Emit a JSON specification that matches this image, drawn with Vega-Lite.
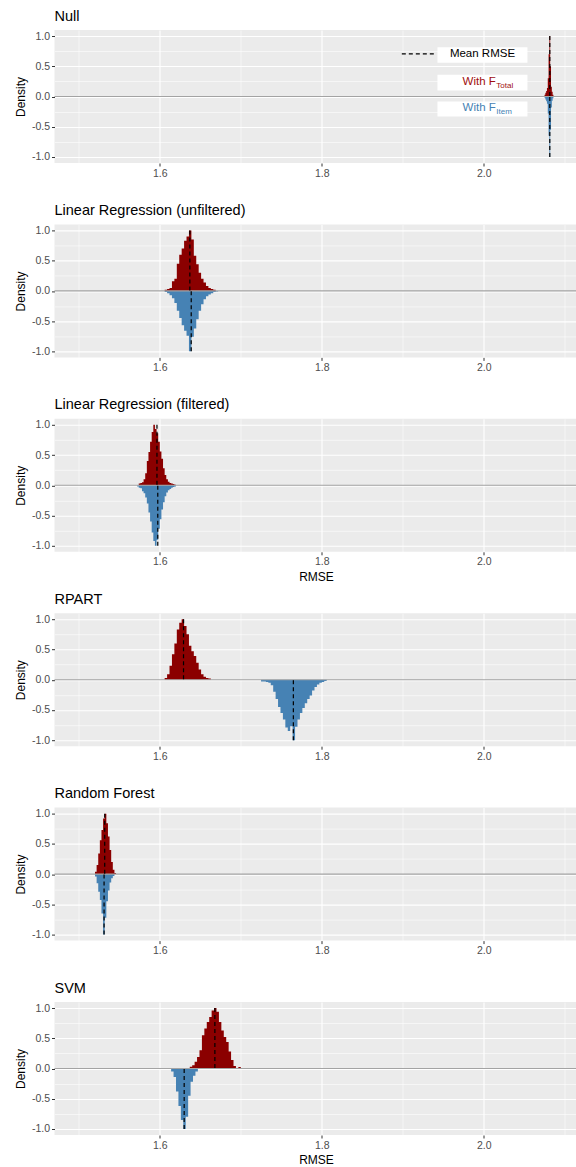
{
  "$schema": "https://vega.github.io/schema/vega-lite/v6.json",
  "padding": {"left": 13.5, "top": 8, "right": 0, "bottom": 0},
  "spacing": 61.4,
  "bounds": "flush",
  "datasets": {
    "hist": [
      {"p":"Null","g":"Total","x":2.075,"d":0.03},{"p":"Null","g":"Total","x":2.076,"d":0.06},{"p":"Null","g":"Total","x":2.077,"d":0.09},{"p":"Null","g":"Total","x":2.078,"d":0.14},{"p":"Null","g":"Total","x":2.079,"d":0.3},{"p":"Null","g":"Total","x":2.08,"d":0.7},{"p":"Null","g":"Total","x":2.081,"d":1},{"p":"Null","g":"Total","x":2.082,"d":0.5},{"p":"Null","g":"Total","x":2.083,"d":0.16},{"p":"Null","g":"Total","x":2.084,"d":0.08},{"p":"Null","g":"Total","x":2.085,"d":0.03},{"p":"Null","g":"Total","x":2.086,"d":0},
      {"p":"Null","g":"Item","x":2.075,"d":-0.02},{"p":"Null","g":"Item","x":2.076,"d":-0.05},{"p":"Null","g":"Item","x":2.077,"d":-0.08},{"p":"Null","g":"Item","x":2.078,"d":-0.12},{"p":"Null","g":"Item","x":2.079,"d":-0.28},{"p":"Null","g":"Item","x":2.08,"d":-0.65},{"p":"Null","g":"Item","x":2.081,"d":-1},{"p":"Null","g":"Item","x":2.082,"d":-0.55},{"p":"Null","g":"Item","x":2.083,"d":-0.18},{"p":"Null","g":"Item","x":2.084,"d":-0.07},{"p":"Null","g":"Item","x":2.085,"d":-0.03},{"p":"Null","g":"Item","x":2.086,"d":0},

      {"p":"LRU","g":"Total","x":1.606,"d":0.02},{"p":"LRU","g":"Total","x":1.609,"d":0.03},{"p":"LRU","g":"Total","x":1.612,"d":0.05},{"p":"LRU","g":"Total","x":1.615,"d":0.16},{"p":"LRU","g":"Total","x":1.618,"d":0.2},{"p":"LRU","g":"Total","x":1.621,"d":0.45},{"p":"LRU","g":"Total","x":1.624,"d":0.6},{"p":"LRU","g":"Total","x":1.627,"d":0.7},{"p":"LRU","g":"Total","x":1.63,"d":0.83},{"p":"LRU","g":"Total","x":1.633,"d":0.9},{"p":"LRU","g":"Total","x":1.636,"d":1},{"p":"LRU","g":"Total","x":1.639,"d":0.85},{"p":"LRU","g":"Total","x":1.642,"d":0.58},{"p":"LRU","g":"Total","x":1.645,"d":0.44},{"p":"LRU","g":"Total","x":1.648,"d":0.3},{"p":"LRU","g":"Total","x":1.651,"d":0.2},{"p":"LRU","g":"Total","x":1.654,"d":0.14},{"p":"LRU","g":"Total","x":1.657,"d":0.08},{"p":"LRU","g":"Total","x":1.66,"d":0.05},{"p":"LRU","g":"Total","x":1.663,"d":0.03},{"p":"LRU","g":"Total","x":1.666,"d":0.02},{"p":"LRU","g":"Total","x":1.669,"d":0},
      {"p":"LRU","g":"Item","x":1.606,"d":-0.02},{"p":"LRU","g":"Item","x":1.609,"d":-0.04},{"p":"LRU","g":"Item","x":1.612,"d":-0.07},{"p":"LRU","g":"Item","x":1.615,"d":-0.12},{"p":"LRU","g":"Item","x":1.618,"d":-0.2},{"p":"LRU","g":"Item","x":1.621,"d":-0.33},{"p":"LRU","g":"Item","x":1.624,"d":-0.45},{"p":"LRU","g":"Item","x":1.627,"d":-0.57},{"p":"LRU","g":"Item","x":1.63,"d":-0.66},{"p":"LRU","g":"Item","x":1.633,"d":-0.74},{"p":"LRU","g":"Item","x":1.636,"d":-1},{"p":"LRU","g":"Item","x":1.639,"d":-0.76},{"p":"LRU","g":"Item","x":1.642,"d":-0.62},{"p":"LRU","g":"Item","x":1.645,"d":-0.47},{"p":"LRU","g":"Item","x":1.648,"d":-0.33},{"p":"LRU","g":"Item","x":1.651,"d":-0.22},{"p":"LRU","g":"Item","x":1.654,"d":-0.14},{"p":"LRU","g":"Item","x":1.657,"d":-0.09},{"p":"LRU","g":"Item","x":1.66,"d":-0.06},{"p":"LRU","g":"Item","x":1.663,"d":-0.04},{"p":"LRU","g":"Item","x":1.666,"d":-0.02},{"p":"LRU","g":"Item","x":1.669,"d":-0.01},{"p":"LRU","g":"Item","x":1.672,"d":0},

      {"p":"LRF","g":"Total","x":1.574,"d":0.03},{"p":"LRF","g":"Total","x":1.576,"d":0.04},{"p":"LRF","g":"Total","x":1.578,"d":0.05},{"p":"LRF","g":"Total","x":1.58,"d":0.1},{"p":"LRF","g":"Total","x":1.582,"d":0.2},{"p":"LRF","g":"Total","x":1.584,"d":0.4},{"p":"LRF","g":"Total","x":1.586,"d":0.55},{"p":"LRF","g":"Total","x":1.588,"d":0.72},{"p":"LRF","g":"Total","x":1.59,"d":0.88},{"p":"LRF","g":"Total","x":1.592,"d":1},{"p":"LRF","g":"Total","x":1.594,"d":0.93},{"p":"LRF","g":"Total","x":1.596,"d":0.86},{"p":"LRF","g":"Total","x":1.598,"d":0.72},{"p":"LRF","g":"Total","x":1.6,"d":0.56},{"p":"LRF","g":"Total","x":1.602,"d":0.44},{"p":"LRF","g":"Total","x":1.604,"d":0.28},{"p":"LRF","g":"Total","x":1.606,"d":0.17},{"p":"LRF","g":"Total","x":1.608,"d":0.1},{"p":"LRF","g":"Total","x":1.61,"d":0.06},{"p":"LRF","g":"Total","x":1.612,"d":0.04},{"p":"LRF","g":"Total","x":1.614,"d":0.03},{"p":"LRF","g":"Total","x":1.616,"d":0.02},{"p":"LRF","g":"Total","x":1.618,"d":0.01},{"p":"LRF","g":"Total","x":1.62,"d":0},
      {"p":"LRF","g":"Item","x":1.572,"d":-0.02},{"p":"LRF","g":"Item","x":1.574,"d":-0.04},{"p":"LRF","g":"Item","x":1.576,"d":-0.05},{"p":"LRF","g":"Item","x":1.578,"d":-0.1},{"p":"LRF","g":"Item","x":1.58,"d":-0.13},{"p":"LRF","g":"Item","x":1.582,"d":-0.2},{"p":"LRF","g":"Item","x":1.584,"d":-0.3},{"p":"LRF","g":"Item","x":1.586,"d":-0.45},{"p":"LRF","g":"Item","x":1.588,"d":-0.6},{"p":"LRF","g":"Item","x":1.59,"d":-0.78},{"p":"LRF","g":"Item","x":1.592,"d":-0.92},{"p":"LRF","g":"Item","x":1.594,"d":-1},{"p":"LRF","g":"Item","x":1.596,"d":-0.9},{"p":"LRF","g":"Item","x":1.598,"d":-0.72},{"p":"LRF","g":"Item","x":1.6,"d":-0.56},{"p":"LRF","g":"Item","x":1.602,"d":-0.4},{"p":"LRF","g":"Item","x":1.604,"d":-0.28},{"p":"LRF","g":"Item","x":1.606,"d":-0.18},{"p":"LRF","g":"Item","x":1.608,"d":-0.12},{"p":"LRF","g":"Item","x":1.61,"d":-0.08},{"p":"LRF","g":"Item","x":1.612,"d":-0.06},{"p":"LRF","g":"Item","x":1.614,"d":-0.04},{"p":"LRF","g":"Item","x":1.616,"d":-0.03},{"p":"LRF","g":"Item","x":1.618,"d":-0.02},{"p":"LRF","g":"Item","x":1.62,"d":0},

      {"p":"RPART","g":"Total","x":1.606,"d":0.03},{"p":"RPART","g":"Total","x":1.609,"d":0.09},{"p":"RPART","g":"Total","x":1.612,"d":0.23},{"p":"RPART","g":"Total","x":1.615,"d":0.42},{"p":"RPART","g":"Total","x":1.618,"d":0.6},{"p":"RPART","g":"Total","x":1.621,"d":0.83},{"p":"RPART","g":"Total","x":1.624,"d":0.94},{"p":"RPART","g":"Total","x":1.627,"d":1},{"p":"RPART","g":"Total","x":1.63,"d":0.89},{"p":"RPART","g":"Total","x":1.633,"d":0.75},{"p":"RPART","g":"Total","x":1.636,"d":0.56},{"p":"RPART","g":"Total","x":1.639,"d":0.47},{"p":"RPART","g":"Total","x":1.642,"d":0.39},{"p":"RPART","g":"Total","x":1.645,"d":0.28},{"p":"RPART","g":"Total","x":1.648,"d":0.17},{"p":"RPART","g":"Total","x":1.651,"d":0.09},{"p":"RPART","g":"Total","x":1.654,"d":0.05},{"p":"RPART","g":"Total","x":1.657,"d":0.03},{"p":"RPART","g":"Total","x":1.66,"d":0.02},{"p":"RPART","g":"Total","x":1.663,"d":0},
      {"p":"RPART","g":"Item","x":1.725,"d":-0.03},{"p":"RPART","g":"Item","x":1.728,"d":-0.03},{"p":"RPART","g":"Item","x":1.731,"d":-0.04},{"p":"RPART","g":"Item","x":1.734,"d":-0.05},{"p":"RPART","g":"Item","x":1.737,"d":-0.09},{"p":"RPART","g":"Item","x":1.74,"d":-0.2},{"p":"RPART","g":"Item","x":1.743,"d":-0.32},{"p":"RPART","g":"Item","x":1.746,"d":-0.45},{"p":"RPART","g":"Item","x":1.749,"d":-0.55},{"p":"RPART","g":"Item","x":1.752,"d":-0.66},{"p":"RPART","g":"Item","x":1.755,"d":-0.79},{"p":"RPART","g":"Item","x":1.758,"d":-0.85},{"p":"RPART","g":"Item","x":1.761,"d":-0.77},{"p":"RPART","g":"Item","x":1.764,"d":-1},{"p":"RPART","g":"Item","x":1.767,"d":-0.78},{"p":"RPART","g":"Item","x":1.77,"d":-0.66},{"p":"RPART","g":"Item","x":1.773,"d":-0.55},{"p":"RPART","g":"Item","x":1.776,"d":-0.47},{"p":"RPART","g":"Item","x":1.779,"d":-0.39},{"p":"RPART","g":"Item","x":1.782,"d":-0.32},{"p":"RPART","g":"Item","x":1.785,"d":-0.26},{"p":"RPART","g":"Item","x":1.788,"d":-0.18},{"p":"RPART","g":"Item","x":1.791,"d":-0.12},{"p":"RPART","g":"Item","x":1.794,"d":-0.08},{"p":"RPART","g":"Item","x":1.797,"d":-0.05},{"p":"RPART","g":"Item","x":1.8,"d":-0.04},{"p":"RPART","g":"Item","x":1.803,"d":-0.02},{"p":"RPART","g":"Item","x":1.806,"d":0},

      {"p":"RF","g":"Total","x":1.52,"d":0.04},{"p":"RF","g":"Total","x":1.522,"d":0.15},{"p":"RF","g":"Total","x":1.524,"d":0.34},{"p":"RF","g":"Total","x":1.526,"d":0.56},{"p":"RF","g":"Total","x":1.528,"d":0.73},{"p":"RF","g":"Total","x":1.53,"d":0.92},{"p":"RF","g":"Total","x":1.532,"d":1},{"p":"RF","g":"Total","x":1.534,"d":0.84},{"p":"RF","g":"Total","x":1.536,"d":0.62},{"p":"RF","g":"Total","x":1.538,"d":0.4},{"p":"RF","g":"Total","x":1.54,"d":0.2},{"p":"RF","g":"Total","x":1.542,"d":0.07},{"p":"RF","g":"Total","x":1.544,"d":0.02},{"p":"RF","g":"Total","x":1.546,"d":0},
      {"p":"RF","g":"Item","x":1.52,"d":-0.04},{"p":"RF","g":"Item","x":1.522,"d":-0.15},{"p":"RF","g":"Item","x":1.524,"d":-0.29},{"p":"RF","g":"Item","x":1.526,"d":-0.43},{"p":"RF","g":"Item","x":1.528,"d":-0.65},{"p":"RF","g":"Item","x":1.53,"d":-1},{"p":"RF","g":"Item","x":1.532,"d":-0.72},{"p":"RF","g":"Item","x":1.534,"d":-0.45},{"p":"RF","g":"Item","x":1.536,"d":-0.27},{"p":"RF","g":"Item","x":1.538,"d":-0.14},{"p":"RF","g":"Item","x":1.54,"d":-0.07},{"p":"RF","g":"Item","x":1.542,"d":-0.03},{"p":"RF","g":"Item","x":1.544,"d":0},

      {"p":"SVM","g":"Total","x":1.637,"d":0.03},{"p":"SVM","g":"Total","x":1.64,"d":0.055},{"p":"SVM","g":"Total","x":1.643,"d":0.11},{"p":"SVM","g":"Total","x":1.646,"d":0.19},{"p":"SVM","g":"Total","x":1.649,"d":0.3},{"p":"SVM","g":"Total","x":1.652,"d":0.55},{"p":"SVM","g":"Total","x":1.655,"d":0.66},{"p":"SVM","g":"Total","x":1.658,"d":0.77},{"p":"SVM","g":"Total","x":1.661,"d":0.85},{"p":"SVM","g":"Total","x":1.664,"d":0.96},{"p":"SVM","g":"Total","x":1.667,"d":1},{"p":"SVM","g":"Total","x":1.67,"d":0.94},{"p":"SVM","g":"Total","x":1.673,"d":0.77},{"p":"SVM","g":"Total","x":1.676,"d":0.63},{"p":"SVM","g":"Total","x":1.679,"d":0.52},{"p":"SVM","g":"Total","x":1.682,"d":0.44},{"p":"SVM","g":"Total","x":1.685,"d":0.28},{"p":"SVM","g":"Total","x":1.688,"d":0.14},{"p":"SVM","g":"Total","x":1.691,"d":0.04},{"p":"SVM","g":"Total","x":1.694,"d":0},{"p":"SVM","g":"Total","x":1.697,"d":0.025},{"p":"SVM","g":"Total","x":1.7,"d":0},
      {"p":"SVM","g":"Item","x":1.614,"d":-0.05},{"p":"SVM","g":"Item","x":1.617,"d":-0.14},{"p":"SVM","g":"Item","x":1.62,"d":-0.38},{"p":"SVM","g":"Item","x":1.623,"d":-0.62},{"p":"SVM","g":"Item","x":1.626,"d":-0.85},{"p":"SVM","g":"Item","x":1.629,"d":-1},{"p":"SVM","g":"Item","x":1.632,"d":-0.8},{"p":"SVM","g":"Item","x":1.635,"d":-0.45},{"p":"SVM","g":"Item","x":1.638,"d":-0.22},{"p":"SVM","g":"Item","x":1.641,"d":-0.12},{"p":"SVM","g":"Item","x":1.644,"d":-0.05},{"p":"SVM","g":"Item","x":1.647,"d":0}
    ],
    "means": [
      {"p":"Null","g":"Total","m":2.0815,"top":1},{"p":"Null","g":"Item","m":2.0815,"top":-1},
      {"p":"LRU","g":"Total","m":1.6371,"top":1},{"p":"LRU","g":"Item","m":1.6388,"top":-1},
      {"p":"LRF","g":"Total","m":1.5965,"top":1},{"p":"LRF","g":"Item","m":1.5975,"top":-1},
      {"p":"RPART","g":"Total","m":1.6293,"top":1},{"p":"RPART","g":"Item","m":1.7649,"top":-1},
      {"p":"RF","g":"Total","m":1.532,"top":1},{"p":"RF","g":"Item","m":1.5312,"top":-1},
      {"p":"SVM","g":"Total","m":1.668,"top":1},{"p":"SVM","g":"Item","m":1.6301,"top":-1}
    ]
  },
  "vconcat": [
    {
      "title": "Null",
      "width": 523, "height": 133,
      "resolve": {"axis": {"y": "independent"}},
      "layer": [
        {"data": {"name": "hist"}, "transform": [{"filter": "datum.p === 'Null'"}],
         "mark": {"type": "area", "interpolate": "step-after"},
         "encoding": {
           "x": {"field": "x", "type": "quantitative", "scale": {"domain": [1.47, 2.1157], "nice": false, "zero": false},
                 "axis": {"title": null, "values": [1.5,1.6,1.7,1.8,1.9,2.0,2.1], "labelFlush": false, "labelExpr": "round(datum.value*10) % 2 == 0 ? format(datum.value, '.1f') : ''", "gridWidth": {"condition": {"test": "round(datum.value*10) % 2 == 1", "value": 0.55}, "value": 1.1}, "tickOpacity": {"condition": {"test": "round(datum.value*10) % 2 == 1", "value": 0}, "value": 1}}},
           "y": {"field": "d", "type": "quantitative", "stack": null, "scale": {"domain": [-1.1, 1.1], "nice": false, "zero": false},
                 "axis": {"title": "Density", "values": [-1,-0.5,0,0.5,1], "labelOverlap": false, "labelExpr": "(datum.value < 0 ? '-' : '') + format(abs(datum.value), '.1f')", "gridWidth": 1.1}},
           "color": {"field": "g", "type": "nominal", "scale": {"domain": ["Total", "Item"], "range": ["#8B0000", "#4682B4"]}, "legend": null}
         }},
        {"data": {"values": [{}]}, "mark": {"type": "rule", "color": "#A3A3A3", "strokeWidth": 1.1},
         "encoding": {"y": {"datum": 0, "type": "quantitative", "axis": {"orient": "right", "values": [-0.75,-0.25,0.25,0.75], "labels": false, "ticks": false, "domain": false, "title": null, "grid": true, "gridWidth": 0.55}}}},
        {"data": {"name": "means"}, "transform": [{"filter": "datum.p === 'Null'"}],
         "mark": {"type": "rule", "color": "#000000", "strokeDash": [4, 3], "strokeWidth": 1.2},
         "encoding": {"x": {"field": "m", "type": "quantitative"}, "y": {"field": "top", "type": "quantitative", "axis": null}, "y2": {"datum": 0}}},
        {"data": {"values": [{}]}, "mark": {"type": "rect", "fill": "#FFFFFF"},
         "encoding": {"x": {"datum": 1.9428, "type": "quantitative"}, "x2": {"datum": 2.0539}, "y": {"datum": 0.815, "type": "quantitative", "axis": null}, "y2": {"datum": 0.557}}},
        {"data": {"values": [{}]}, "mark": {"type": "rect", "fill": "#FFFFFF"},
         "encoding": {"x": {"datum": 1.9428, "type": "quantitative"}, "x2": {"datum": 2.0539}, "y": {"datum": 0.359, "type": "quantitative", "axis": null}, "y2": {"datum": 0.099}}},
        {"data": {"values": [{}]}, "mark": {"type": "rect", "fill": "#FFFFFF"},
         "encoding": {"x": {"datum": 1.9428, "type": "quantitative"}, "x2": {"datum": 2.0539}, "y": {"datum": -0.083, "type": "quantitative", "axis": null}, "y2": {"datum": -0.331}}},
        {"data": {"values": [{}]}, "mark": {"type": "rule", "color": "#000000", "strokeDash": [4, 3], "strokeWidth": 1.2},
         "encoding": {"x": {"datum": 1.8988, "type": "quantitative"}, "x2": {"datum": 1.942}, "y": {"datum": 0.706, "type": "quantitative", "axis": null}}},
        {"data": {"values": [{"t": "Mean RMSE"}]}, "mark": {"type": "text", "fontSize": 11.5, "color": "#000000", "align": "center", "baseline": "middle"},
         "encoding": {"x": {"datum": 1.9984, "type": "quantitative"}, "y": {"datum": 0.706, "type": "quantitative", "axis": null}, "text": {"field": "t"}}},
        {"data": {"values": [{"t": "With F"}]}, "mark": {"type": "text", "fontSize": 11.5, "color": "#A01010", "align": "right", "baseline": "middle"},
         "encoding": {"x": {"datum": 2.0148, "type": "quantitative"}, "y": {"datum": 0.236, "type": "quantitative", "axis": null}, "text": {"field": "t"}}},
        {"data": {"values": [{"t": "Total"}]}, "mark": {"type": "text", "fontSize": 8, "color": "#A01010", "align": "left", "baseline": "middle", "dx": 0.5, "dy": 4},
         "encoding": {"x": {"datum": 2.0148, "type": "quantitative"}, "y": {"datum": 0.236, "type": "quantitative", "axis": null}, "text": {"field": "t"}}},
        {"data": {"values": [{"t": "With F"}]}, "mark": {"type": "text", "fontSize": 11.5, "color": "#4682B4", "align": "right", "baseline": "middle"},
         "encoding": {"x": {"datum": 2.0148, "type": "quantitative"}, "y": {"datum": -0.187, "type": "quantitative", "axis": null}, "text": {"field": "t"}}},
        {"data": {"values": [{"t": "Item"}]}, "mark": {"type": "text", "fontSize": 8, "color": "#4682B4", "align": "left", "baseline": "middle", "dx": 0.5, "dy": 4},
         "encoding": {"x": {"datum": 2.0148, "type": "quantitative"}, "y": {"datum": -0.187, "type": "quantitative", "axis": null}, "text": {"field": "t"}}}
      ]
    },
    {
      "title": "Linear Regression (unfiltered)",
      "width": 523, "height": 133,
      "resolve": {"axis": {"y": "independent"}},
      "layer": [
        {"data": {"name": "hist"}, "transform": [{"filter": "datum.p === 'LRU'"}],
         "mark": {"type": "area", "interpolate": "step-after"},
         "encoding": {
           "x": {"field": "x", "type": "quantitative", "scale": {"domain": [1.47, 2.1157], "nice": false, "zero": false},
                 "axis": {"title": null, "values": [1.5,1.6,1.7,1.8,1.9,2.0,2.1], "labelFlush": false, "labelExpr": "round(datum.value*10) % 2 == 0 ? format(datum.value, '.1f') : ''", "gridWidth": {"condition": {"test": "round(datum.value*10) % 2 == 1", "value": 0.55}, "value": 1.1}, "tickOpacity": {"condition": {"test": "round(datum.value*10) % 2 == 1", "value": 0}, "value": 1}}},
           "y": {"field": "d", "type": "quantitative", "stack": null, "scale": {"domain": [-1.1, 1.1], "nice": false, "zero": false},
                 "axis": {"title": "Density", "values": [-1,-0.5,0,0.5,1], "labelOverlap": false, "labelExpr": "(datum.value < 0 ? '-' : '') + format(abs(datum.value), '.1f')", "gridWidth": 1.1}},
           "color": {"field": "g", "type": "nominal", "scale": {"domain": ["Total", "Item"], "range": ["#8B0000", "#4682B4"]}, "legend": null}
         }},
        {"data": {"values": [{}]}, "mark": {"type": "rule", "color": "#A3A3A3", "strokeWidth": 1.1},
         "encoding": {"y": {"datum": 0, "type": "quantitative", "axis": {"orient": "right", "values": [-0.75,-0.25,0.25,0.75], "labels": false, "ticks": false, "domain": false, "title": null, "grid": true, "gridWidth": 0.55}}}},
        {"data": {"name": "means"}, "transform": [{"filter": "datum.p === 'LRU'"}],
         "mark": {"type": "rule", "color": "#000000", "strokeDash": [4, 3], "strokeWidth": 1.2},
         "encoding": {"x": {"field": "m", "type": "quantitative"}, "y": {"field": "top", "type": "quantitative", "axis": null}, "y2": {"datum": 0}}}
      ]
    },
    {
      "title": "Linear Regression (filtered)",
      "width": 523, "height": 133,
      "resolve": {"axis": {"y": "independent"}},
      "layer": [
        {"data": {"name": "hist"}, "transform": [{"filter": "datum.p === 'LRF'"}],
         "mark": {"type": "area", "interpolate": "step-after"},
         "encoding": {
           "x": {"field": "x", "type": "quantitative", "scale": {"domain": [1.47, 2.1157], "nice": false, "zero": false},
                 "axis": {"title": "RMSE", "values": [1.5,1.6,1.7,1.8,1.9,2.0,2.1], "labelFlush": false, "labelExpr": "round(datum.value*10) % 2 == 0 ? format(datum.value, '.1f') : ''", "gridWidth": {"condition": {"test": "round(datum.value*10) % 2 == 1", "value": 0.55}, "value": 1.1}, "tickOpacity": {"condition": {"test": "round(datum.value*10) % 2 == 1", "value": 0}, "value": 1}}},
           "y": {"field": "d", "type": "quantitative", "stack": null, "scale": {"domain": [-1.1, 1.1], "nice": false, "zero": false},
                 "axis": {"title": "Density", "values": [-1,-0.5,0,0.5,1], "labelOverlap": false, "labelExpr": "(datum.value < 0 ? '-' : '') + format(abs(datum.value), '.1f')", "gridWidth": 1.1}},
           "color": {"field": "g", "type": "nominal", "scale": {"domain": ["Total", "Item"], "range": ["#8B0000", "#4682B4"]}, "legend": null}
         }},
        {"data": {"values": [{}]}, "mark": {"type": "rule", "color": "#A3A3A3", "strokeWidth": 1.1},
         "encoding": {"y": {"datum": 0, "type": "quantitative", "axis": {"orient": "right", "values": [-0.75,-0.25,0.25,0.75], "labels": false, "ticks": false, "domain": false, "title": null, "grid": true, "gridWidth": 0.55}}}},
        {"data": {"name": "means"}, "transform": [{"filter": "datum.p === 'LRF'"}],
         "mark": {"type": "rule", "color": "#000000", "strokeDash": [4, 3], "strokeWidth": 1.2},
         "encoding": {"x": {"field": "m", "type": "quantitative"}, "y": {"field": "top", "type": "quantitative", "axis": null}, "y2": {"datum": 0}}}
      ]
    },
    {
      "title": "RPART",
      "width": 523, "height": 133,
      "resolve": {"axis": {"y": "independent"}},
      "layer": [
        {"data": {"name": "hist"}, "transform": [{"filter": "datum.p === 'RPART'"}],
         "mark": {"type": "area", "interpolate": "step-after"},
         "encoding": {
           "x": {"field": "x", "type": "quantitative", "scale": {"domain": [1.47, 2.1157], "nice": false, "zero": false},
                 "axis": {"title": null, "values": [1.5,1.6,1.7,1.8,1.9,2.0,2.1], "labelFlush": false, "labelExpr": "round(datum.value*10) % 2 == 0 ? format(datum.value, '.1f') : ''", "gridWidth": {"condition": {"test": "round(datum.value*10) % 2 == 1", "value": 0.55}, "value": 1.1}, "tickOpacity": {"condition": {"test": "round(datum.value*10) % 2 == 1", "value": 0}, "value": 1}}},
           "y": {"field": "d", "type": "quantitative", "stack": null, "scale": {"domain": [-1.1, 1.1], "nice": false, "zero": false},
                 "axis": {"title": "Density", "values": [-1,-0.5,0,0.5,1], "labelOverlap": false, "labelExpr": "(datum.value < 0 ? '-' : '') + format(abs(datum.value), '.1f')", "gridWidth": 1.1}},
           "color": {"field": "g", "type": "nominal", "scale": {"domain": ["Total", "Item"], "range": ["#8B0000", "#4682B4"]}, "legend": null}
         }},
        {"data": {"values": [{}]}, "mark": {"type": "rule", "color": "#A3A3A3", "strokeWidth": 1.1},
         "encoding": {"y": {"datum": 0, "type": "quantitative", "axis": {"orient": "right", "values": [-0.75,-0.25,0.25,0.75], "labels": false, "ticks": false, "domain": false, "title": null, "grid": true, "gridWidth": 0.55}}}},
        {"data": {"name": "means"}, "transform": [{"filter": "datum.p === 'RPART'"}],
         "mark": {"type": "rule", "color": "#000000", "strokeDash": [4, 3], "strokeWidth": 1.2},
         "encoding": {"x": {"field": "m", "type": "quantitative"}, "y": {"field": "top", "type": "quantitative", "axis": null}, "y2": {"datum": 0}}}
      ]
    },
    {
      "title": "Random Forest",
      "width": 523, "height": 133,
      "resolve": {"axis": {"y": "independent"}},
      "layer": [
        {"data": {"name": "hist"}, "transform": [{"filter": "datum.p === 'RF'"}],
         "mark": {"type": "area", "interpolate": "step-after"},
         "encoding": {
           "x": {"field": "x", "type": "quantitative", "scale": {"domain": [1.47, 2.1157], "nice": false, "zero": false},
                 "axis": {"title": null, "values": [1.5,1.6,1.7,1.8,1.9,2.0,2.1], "labelFlush": false, "labelExpr": "round(datum.value*10) % 2 == 0 ? format(datum.value, '.1f') : ''", "gridWidth": {"condition": {"test": "round(datum.value*10) % 2 == 1", "value": 0.55}, "value": 1.1}, "tickOpacity": {"condition": {"test": "round(datum.value*10) % 2 == 1", "value": 0}, "value": 1}}},
           "y": {"field": "d", "type": "quantitative", "stack": null, "scale": {"domain": [-1.1, 1.1], "nice": false, "zero": false},
                 "axis": {"title": "Density", "values": [-1,-0.5,0,0.5,1], "labelOverlap": false, "labelExpr": "(datum.value < 0 ? '-' : '') + format(abs(datum.value), '.1f')", "gridWidth": 1.1}},
           "color": {"field": "g", "type": "nominal", "scale": {"domain": ["Total", "Item"], "range": ["#8B0000", "#4682B4"]}, "legend": null}
         }},
        {"data": {"values": [{}]}, "mark": {"type": "rule", "color": "#A3A3A3", "strokeWidth": 1.1},
         "encoding": {"y": {"datum": 0, "type": "quantitative", "axis": {"orient": "right", "values": [-0.75,-0.25,0.25,0.75], "labels": false, "ticks": false, "domain": false, "title": null, "grid": true, "gridWidth": 0.55}}}},
        {"data": {"name": "means"}, "transform": [{"filter": "datum.p === 'RF'"}],
         "mark": {"type": "rule", "color": "#000000", "strokeDash": [4, 3], "strokeWidth": 1.2},
         "encoding": {"x": {"field": "m", "type": "quantitative"}, "y": {"field": "top", "type": "quantitative", "axis": null}, "y2": {"datum": 0}}}
      ]
    },
    {
      "title": "SVM",
      "width": 523, "height": 133,
      "resolve": {"axis": {"y": "independent"}},
      "layer": [
        {"data": {"name": "hist"}, "transform": [{"filter": "datum.p === 'SVM'"}],
         "mark": {"type": "area", "interpolate": "step-after"},
         "encoding": {
           "x": {"field": "x", "type": "quantitative", "scale": {"domain": [1.47, 2.1157], "nice": false, "zero": false},
                 "axis": {"title": "RMSE", "values": [1.5,1.6,1.7,1.8,1.9,2.0,2.1], "labelFlush": false, "labelExpr": "round(datum.value*10) % 2 == 0 ? format(datum.value, '.1f') : ''", "gridWidth": {"condition": {"test": "round(datum.value*10) % 2 == 1", "value": 0.55}, "value": 1.1}, "tickOpacity": {"condition": {"test": "round(datum.value*10) % 2 == 1", "value": 0}, "value": 1}}},
           "y": {"field": "d", "type": "quantitative", "stack": null, "scale": {"domain": [-1.1, 1.1], "nice": false, "zero": false},
                 "axis": {"title": "Density", "values": [-1,-0.5,0,0.5,1], "labelOverlap": false, "labelExpr": "(datum.value < 0 ? '-' : '') + format(abs(datum.value), '.1f')", "gridWidth": 1.1}},
           "color": {"field": "g", "type": "nominal", "scale": {"domain": ["Total", "Item"], "range": ["#8B0000", "#4682B4"]}, "legend": null}
         }},
        {"data": {"values": [{}]}, "mark": {"type": "rule", "color": "#A3A3A3", "strokeWidth": 1.1},
         "encoding": {"y": {"datum": 0, "type": "quantitative", "axis": {"orient": "right", "values": [-0.75,-0.25,0.25,0.75], "labels": false, "ticks": false, "domain": false, "title": null, "grid": true, "gridWidth": 0.55}}}},
        {"data": {"name": "means"}, "transform": [{"filter": "datum.p === 'SVM'"}],
         "mark": {"type": "rule", "color": "#000000", "strokeDash": [4, 3], "strokeWidth": 1.2},
         "encoding": {"x": {"field": "m", "type": "quantitative"}, "y": {"field": "top", "type": "quantitative", "axis": null}, "y2": {"datum": 0}}}
      ]
    }
  ],
  "config": {
    "font": "Liberation Sans",
    "view": {"fill": "#EBEBEB", "stroke": null},
    "axis": {"domain": false, "labelOverlap": false, "gridColor": "#FFFFFF", "tickColor": "#333333", "tickSize": 3, "tickWidth": 1, "labelColor": "#4D4D4D", "labelFontSize": 10.5, "labelPadding": 2, "titleFontSize": 12, "titleFontWeight": "normal", "titleColor": "#000000", "titlePadding": 4, "labelFont": "Liberation Sans", "titleFont": "Liberation Sans"},
    "title": {"anchor": "start", "frame": "group", "fontSize": 14.5, "fontWeight": "normal", "color": "#000000", "offset": 6, "font": "Liberation Sans"}
  }
}
